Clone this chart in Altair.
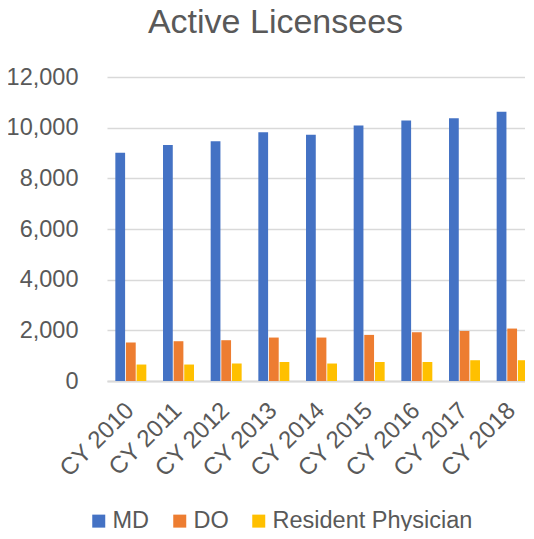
import altair as alt
import pandas as pd

title_text = ["Active Licensees"]
years = ["CY 2010", "CY 2011", "CY 2012", "CY 2013", "CY 2014",
         "CY 2015", "CY 2016", "CY 2017", "CY 2018"]
series = ["MD", "DO", "Resident Physician"]
colors = ["#4472C4", "#ED7D31", "#FFC000"]

md = [9010, 9315, 9460, 9815, 9725, 10090, 10280, 10375, 10630]
do = [1520, 1570, 1610, 1715, 1715, 1820, 1925, 1975, 2070]
resident = [650, 650, 690, 750, 690, 750, 750, 820, 820]

y_ticks = [0, 2000, 4000, 6000, 8000, 10000, 12000]

rows = []
for name, vals in zip(series, [md, do, resident]):
    for yr, v in zip(years, vals):
        rows.append({"year": yr, "series": name, "value": v})
df = pd.DataFrame(rows)

FONT = "Liberation Sans"
GRAY = "#595959"

bars = alt.Chart(df).mark_bar().encode(
    x=alt.X("year:N", sort=years,
            scale=alt.Scale(range=[0, 429], paddingInner=0.35, paddingOuter=0.175),
            axis=alt.Axis(title=None, labelAngle=-45, labelFontSize=24,
                          labelColor=GRAY, labelFont=FONT, domainColor="#d9d9d9",
                          domainWidth=2, ticks=False, labelPadding=17,
                          labelOffset=-9, labelAlign="right", labelBaseline="top",
                          grid=False)),
    xOffset=alt.XOffset("series:N", sort=series, scale=alt.Scale(paddingInner=0.08)),
    y=alt.Y("value:Q", scale=alt.Scale(domain=[0, 12000]),
            axis=alt.Axis(values=y_ticks, format=",.0f", title=None, domain=False,
                          ticks=False, labelPadding=29, gridColor="#d9d9d9",
                          gridWidth=1.5, labelFontSize=23.5, labelColor=GRAY,
                          labelFont=FONT)),
    color=alt.Color("series:N", sort=series,
                    scale=alt.Scale(domain=series, range=colors),
                    legend=alt.Legend(orient="none", legendX=-20, legendY=432,
                                      direction="horizontal", title=None,
                                      symbolType="square", symbolSize=169,
                                      symbolStrokeWidth=0, labelFontSize=23.5,
                                      labelColor=GRAY, labelFont=FONT,
                                      labelLimit=400,
                                      columnPadding=18, labelOffset=2)),
)

title = alt.Chart(pd.DataFrame({"t": title_text})).mark_text(
    font=FONT, fontSize=34, color=GRAY, align="center", baseline="alphabetic"
).encode(text="t:N", x=alt.value(168.5), y=alt.value(-44))

chart = alt.layer(bars, title).properties(
    width=418,
    height=304,
    autosize=alt.AutoSizeParams(type="none"),
    padding={"left": 99, "top": 69, "right": 0, "bottom": 150},
).configure_view(stroke=None)

chart.save("out.html", embed_options={"renderer": "svg", "actions": False})
